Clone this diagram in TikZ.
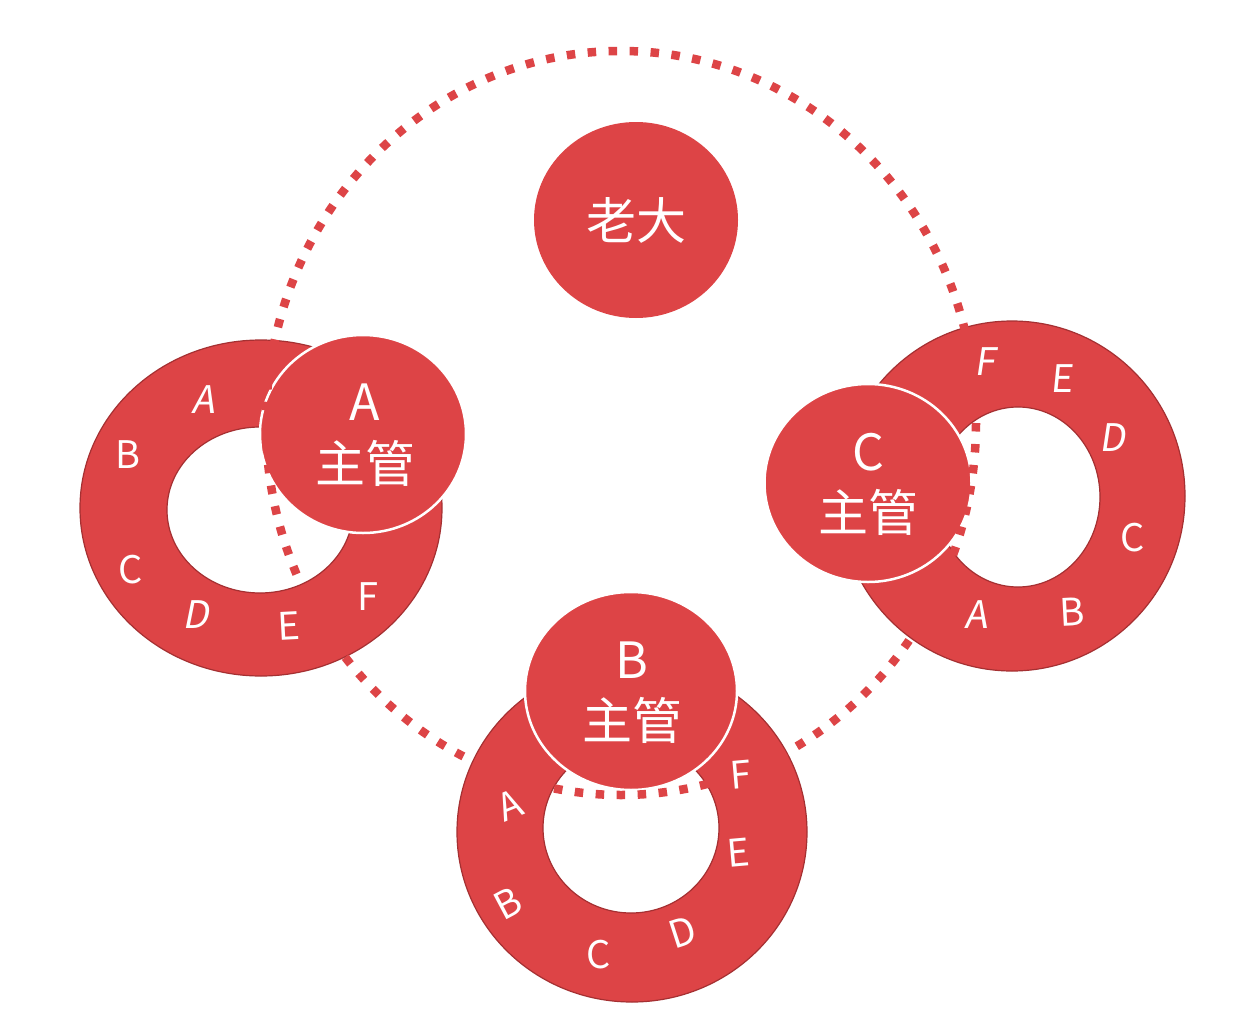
\documentclass[tikz,border=0pt]{standalone}
\usepackage{fontspec}
\setmainfont{Noto Sans CJK SC}
\usetikzlibrary{shapes.geometric}
\definecolor{rd}{RGB}{221,68,70}
\definecolor{rdline}{RGB}{165,48,50}
\begin{document}
\begin{tikzpicture}[x=1pt,y=-1pt,
  boss/.style={ellipse, fill=rd, inner sep=0pt, text=white, font=\fontsize{50}{60}\selectfont},
  head/.style={ellipse, fill=rd, draw=white, line width=2.5pt, inner sep=0pt},
  ringpath/.style={fill=rd, draw=rdline, line width=1.2pt, even odd rule},
  big/.style={text=white, font=\fontsize{50}{60}\selectfont, inner sep=0pt},
  lett/.style={text=white, font=\fontsize{38}{40}\selectfont, inner sep=0pt},
  dotline/.style={draw=rd, line width=8.5pt, dash pattern=on 8.5pt off 12.5pt}
]
\fill[white] (0,0) rectangle (1256,1028);
\useasboundingbox (0,0) rectangle (1256,1028);

% boss
\node[boss, minimum width=204pt, minimum height=196pt] (boss) at (636,220) {老大};

% rings
\path[ringpath] (261,508) ellipse [x radius=181, y radius=168]
                (260,510) ellipse [x radius=93, y radius=83];
\path[ringpath] (1012,496) ellipse [x radius=173, y radius=175]
                (1018,497) ellipse [x radius=82, y radius=90];
\path[ringpath] (632,832) ellipse [x radius=175, y radius=170]
                (631,828) ellipse [x radius=88, y radius=85];

% heads
\node[head, minimum width=206pt, minimum height=198pt] (headA) at (363,434) {};
\node[head, minimum width=207pt, minimum height=198pt] (headC) at (868,483) {};
\node[head, minimum width=212pt, minimum height=198pt] (headB) at (631,691) {};

% dotted ellipse
\draw[dotline] (621,423) ellipse [x radius=355, y radius=372];

% head texts
\node[big] (headAl) at (365,402) {A};
\node[big] (headAz) at (365,463) {主管};
\node[big] (headCl) at (868,452) {C};
\node[big] (headCz) at (868,512) {主管};
\node[big] (headBl) at (632,660) {B};
\node[big] (headBz) at (632,720) {主管};

% ring A letters
\node[lett, xslant=0.2] (rAa) at (206,400) {A};
\node[lett] (rAb) at (128,455) {B};
\node[lett] (rAc) at (131,570) {C};
\node[lett, xslant=0.2] (rAd) at (198,615) {D};
\node[lett, rotate=3] (rAe) at (289,626) {E};
\node[lett] (rAf) at (368,597) {F};

% ring C letters
\node[lett, xslant=0.15] (rCf) at (987,362) {F};
\node[lett, xslant=0.1] (rCe) at (1063,379) {E};
\node[lett, xslant=0.15] (rCd) at (1115,438) {D};
\node[lett] (rCc) at (1133,538) {C};
\node[lett, rotate=3] (rCb) at (1072,612) {B};
\node[lett, xslant=0.15] (rCa) at (978,615) {A};

% ring B letters
\node[lett, rotate=22] (rBa) at (510,805) {A};
\node[lett, rotate=28] (rBb) at (508,903) {B};
\node[lett] (rBc) at (599,955) {C};
\node[lett, rotate=18] (rBd) at (683,932) {D};
\node[lett, rotate=5] (rBe) at (738,853) {E};
\node[lett, rotate=5] (rBf) at (741,775) {F};
\end{tikzpicture}
\end{document}
